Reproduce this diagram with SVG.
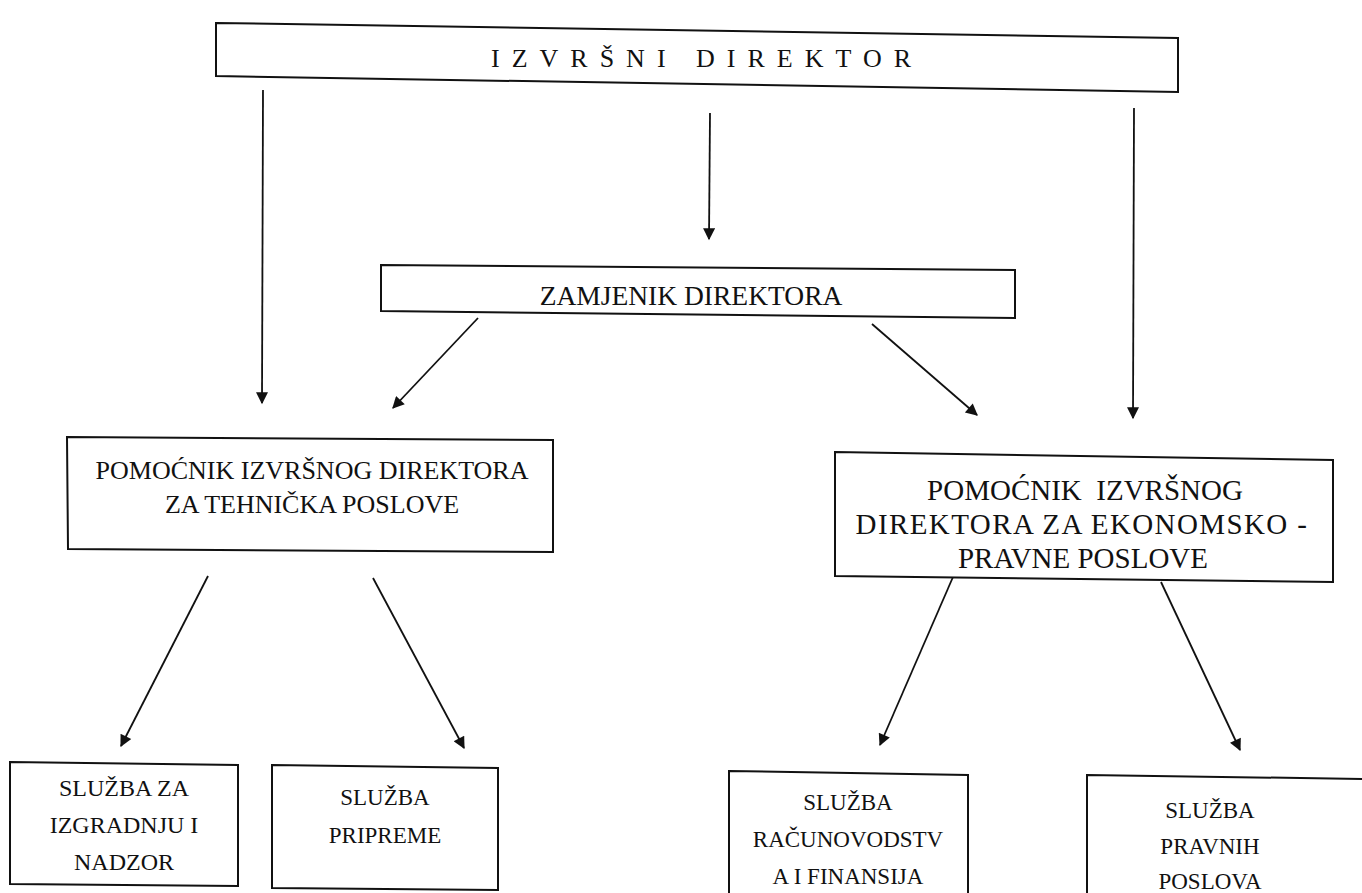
<svg xmlns="http://www.w3.org/2000/svg" width="1362" height="893" viewBox="0 0 1362 893">
<defs>
<marker id="ah" viewBox="0 0 10 10" refX="9" refY="5" markerWidth="14" markerHeight="12" markerUnits="userSpaceOnUse" orient="auto">
<path d="M0,0 L10,5 L0,10 z" fill="#111"/>
</marker>
<style>
.box{fill:#fff;stroke:#111;stroke-width:2}
.t{font-family:'Liberation Serif','DejaVu Serif',serif;font-size:23px;fill:#111;text-anchor:middle}
.c{stroke:#111;stroke-width:1.8;fill:none;marker-end:url(#ah)}
</style>
</defs>
<rect width="1362" height="893" fill="#fff"/>
<g id="connectors">
<line class="c" x1="263" y1="90" x2="262" y2="403"/>
<line class="c" x1="710" y1="113" x2="709" y2="239"/>
<line class="c" x1="1134" y1="108" x2="1133" y2="418"/>
<line class="c" x1="478" y1="318" x2="393" y2="408"/>
<line class="c" x1="872" y1="324" x2="977" y2="415"/>
<line class="c" x1="208" y1="576" x2="121" y2="746"/>
<line class="c" x1="373" y1="578" x2="464" y2="748"/>
<line class="c" x1="953" y1="577" x2="880" y2="745"/>
<line class="c" x1="1161" y1="582" x2="1240" y2="750"/>
</g>
<g id="izvrsni">
<polygon class="box" points="216,23 1178,38 1178,92 216,76"/>
<text class="t" x="707" y="67" style="font-size:26px;letter-spacing:12px">IZVRŠNI DIREKTOR</text>
</g>
<g id="zamjenik">
<polygon class="box" points="381,265 1015,270 1015,318 381,311"/>
<text class="t" x="691" y="305" style="font-size:27.5px">ZAMJENIK DIREKTORA</text>
</g>
<g id="pomocnik-teh">
<polygon class="box" points="67,437 553,440 553,552 68,549"/>
<text class="t" x="312" y="479" style="font-size:26px">POMOĆNIK IZVRŠNOG DIREKTORA</text>
<text class="t" x="312" y="513" style="font-size:26px">ZA TEHNIČKA POSLOVE</text>
</g>
<g id="pomocnik-ek">
<polygon class="box" points="835,452 1333,460 1333,582 835,576"/>
<text class="t" x="1085" y="500" style="font-size:29px" xml:space="preserve">POMOĆNIK  IZVRŠNOG</text>
<text class="t" x="1082" y="534" style="font-size:29px;letter-spacing:1.4px">DIREKTORA ZA EKONOMSKO -</text>
<text class="t" x="1083" y="568" style="font-size:29px">PRAVNE POSLOVE</text>
</g>
<g id="sluzba-izgradnja">
<polygon class="box" points="10,762 238,765 238,886 10,884"/>
<text class="t" x="124" y="796" style="font-size:24px">SLUŽBA ZA</text>
<text class="t" x="124" y="833" style="font-size:24px">IZGRADNJU I</text>
<text class="t" x="124" y="870" style="font-size:24px">NADZOR</text>
</g>
<g id="sluzba-pripreme">
<polygon class="box" points="272,765 498,768 498,890 272,888"/>
<text class="t" x="385" y="805">SLUŽBA</text>
<text class="t" x="385" y="843">PRIPREME</text>
</g>
<g id="sluzba-racunovodstvo">
<polygon class="box" points="729,771 968,775 968,900 729,900"/>
<text class="t" x="848" y="810">SLUŽBA</text>
<text class="t" x="848" y="847">RAČUNOVODSTV</text>
<text class="t" x="848" y="884">A I FINANSIJA</text>
</g>
<g id="sluzba-pravnih">
<polygon class="box" points="1087,775 1366,779 1366,900 1087,900"/>
<text class="t" x="1210" y="818">SLUŽBA</text>
<text class="t" x="1210" y="854">PRAVNIH</text>
<text class="t" x="1210" y="889">POSLOVA</text>
</g>
</svg>
